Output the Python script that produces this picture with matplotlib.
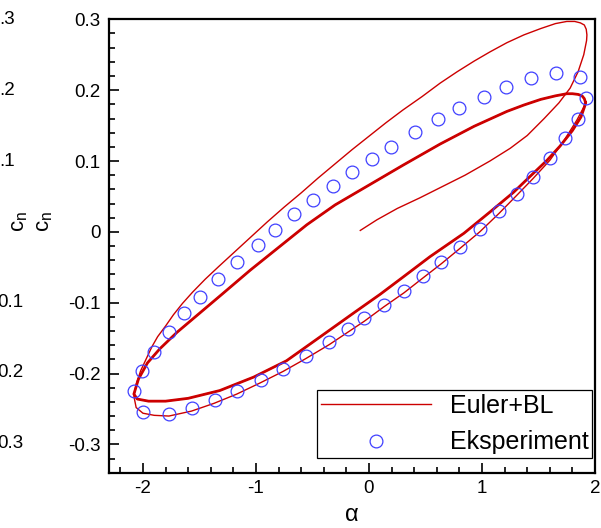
import matplotlib
matplotlib.use("Agg")
import matplotlib.pyplot as plt
from matplotlib.ticker import MultipleLocator

plt.rcParams['font.family'] = ['Liberation Sans', 'DejaVu Sans']
plt.rcParams['mathtext.default'] = 'regular'

# experiment (circles)
alpha_exp = [-2.077, -2.009, -1.906, -1.770, -1.640, -1.493, -1.340, -1.168, -0.985, -0.828,
             -0.664, -0.496, -0.322, -0.150, 0.027, 0.198, 0.404, 0.607, 0.800, 1.015,
             1.209, 1.434, 1.655, 1.863, 1.917, 1.846, 1.734, 1.602, 1.454, 1.312,
             1.153, 0.983, 0.802, 0.640, 0.474, 0.306, 0.133, -0.041, -0.183, -0.352,
             -0.561, -0.761, -0.956, -1.168, -1.366, -1.566, -1.773, -2.003]
cn_exp = [-0.225, -0.197, -0.170, -0.142, -0.114, -0.092, -0.067, -0.042, -0.018, 0.003,
          0.025, 0.045, 0.065, 0.084, 0.103, 0.120, 0.141, 0.159, 0.175, 0.191,
          0.204, 0.217, 0.224, 0.218, 0.189, 0.160, 0.132, 0.104, 0.077, 0.054,
          0.029, 0.004, -0.021, -0.042, -0.063, -0.083, -0.103, -0.122, -0.137, -0.155,
          -0.175, -0.193, -0.209, -0.225, -0.238, -0.249, -0.257, -0.254]

# Euler+BL: start-up (lower edge of first loop)
alpha_start = [-0.077, 0.07, 0.25, 0.45, 0.65, 0.85, 1.07, 1.25, 1.40, 1.55, 1.68, 1.78, 1.85, 1.90, 1.925]
cn_start = [0.002, 0.017, 0.033, 0.048, 0.064, 0.080, 0.100, 0.118, 0.136, 0.160, 0.182, 0.203, 0.226, 0.250, 0.270]
# first downstroke (outer loop upper edge)
alpha_first_up = [1.925, 1.928, 1.922, 1.905, 1.87, 1.82, 1.75, 1.65, 1.52, 1.37, 1.22, 1.07, 0.93, 0.78,
                  0.63, 0.47, 0.30, 0.15, 0.0, -0.15, -0.30, -0.45, -0.60, -0.75, -0.90, -1.05,
                  -1.20, -1.33, -1.45, -1.56, -1.65, -1.73, -1.80, -1.87, -1.92, -1.97, -2.02, -2.06, -2.08]
cn_first_up = [0.270, 0.278, 0.286, 0.292, 0.295, 0.297, 0.297, 0.294, 0.287, 0.278, 0.267, 0.254, 0.241, 0.226,
               0.210, 0.191, 0.172, 0.154, 0.135, 0.116, 0.096, 0.076, 0.055, 0.035, 0.014, -0.008,
               -0.030, -0.049, -0.067, -0.085, -0.101, -0.117, -0.133, -0.148, -0.162, -0.179, -0.196, -0.215, -0.232]
# first upstroke (through experiment)
alpha_first_low = [-2.08, -2.06, -2.0, -1.9, -1.77, -1.57, -1.37, -1.17, -0.96, -0.76, -0.56, -0.35,
                   -0.18, -0.04, 0.13, 0.31, 0.47, 0.64, 0.80, 0.98, 1.15, 1.31, 1.45, 1.60,
                   1.73, 1.84, 1.90, 1.915]
cn_first_low = [-0.232, -0.248, -0.256, -0.259, -0.260, -0.253, -0.242, -0.229, -0.213, -0.197, -0.179, -0.159,
                -0.141, -0.126, -0.106, -0.086, -0.066, -0.045, -0.024, 0.0, 0.026, 0.052, 0.075, 0.101,
                0.130, 0.158, 0.176, 0.183]
# periodic cycles
alpha_cyc_up = [1.915, 1.905, 1.885, 1.85, 1.80, 1.75, 1.65, 1.52, 1.37, 1.22, 0.93, 0.63, 0.30, 0.0, -0.30,
                -0.55, -0.80, -1.05, -1.30, -1.50, -1.70, -1.85, -1.96, -2.04, -2.08]
cn_cyc_up = [0.183, 0.188, 0.192, 0.194, 0.195, 0.195, 0.192, 0.187, 0.179, 0.170, 0.149, 0.124, 0.094, 0.066, 0.038,
             0.010, -0.022, -0.054, -0.088, -0.115, -0.142, -0.165, -0.185, -0.208, -0.229]
alpha_cyc_low = [-2.08, -2.05, -1.95, -1.80, -1.60, -1.32, -1.02, -0.73, -0.43, -0.14, 0.10, 0.30, 0.54,
                 0.84, 1.07, 1.28, 1.43, 1.575, 1.69, 1.80, 1.875, 1.91, 1.915]
cn_cyc_low = [-0.229, -0.236, -0.239, -0.239, -0.235, -0.224, -0.205, -0.182, -0.148, -0.115, -0.088, -0.064, -0.035,
              -0.002, 0.028, 0.056, 0.079, 0.101, 0.121, 0.143, 0.162, 0.178, 0.183]

alpha_sim = alpha_start + alpha_first_up + alpha_first_low + alpha_cyc_up + alpha_cyc_low
cn_sim = cn_start + cn_first_up + cn_first_low + cn_cyc_up + cn_cyc_low

red = '#cc0000'
blue = '#4040ff'

fig = plt.figure(figsize=(6.01, 5.28), dpi=100)
ax = fig.add_axes([0.1814, 0.1047, 0.8087, 0.8587])

ax.plot(alpha_sim, cn_sim, color=red, lw=1.0, label='Euler+BL')
ax.plot(alpha_cyc_up + alpha_cyc_low, cn_cyc_up + cn_cyc_low, color=red, lw=2.0)
ax.plot(alpha_exp, cn_exp, 'o', mfc='none', mec=blue, ms=9.2, mew=0.9, label='Eksperiment')

ax.set_xlim(-2.3, 2.0)
ax.set_ylim(-0.34, 0.3)
ax.xaxis.set_minor_locator(MultipleLocator(0.2))
ax.yaxis.set_minor_locator(MultipleLocator(0.02))
ax.set_yticks([-0.3, -0.2, -0.1, 0, 0.1, 0.2, 0.3])
ax.set_yticklabels(['-0.3', '-0.2', '-0.1', '0', '0.1', '0.2', '0.3'])
ax.set_xticks([-2, -1, 0, 1, 2])
ax.set_xticklabels(['-2', '-1', '0', '1', '2'])
ax.tick_params(which='both', direction='in', top=False, right=False, width=1.2, labelsize=13.5)
ax.tick_params(which='major', length=7.5)
ax.tick_params(which='minor', length=4.5)
ax.tick_params(axis='y', pad=6)
ax.tick_params(axis='x', pad=5)
for s in ax.spines.values():
    s.set_linewidth(1.6)

ax.set_xlabel('α', fontsize=17, labelpad=5)
ax.set_ylabel('c$_n$', fontsize=16)
ax.yaxis.set_label_coords(-0.112, 0.555)

# ghost labels from an overlapping figure at the left edge
fig.text(19 / 601, 1 - 221 / 528, 'c$_n$', fontsize=16, rotation=90, ha='center', va='center')
ghost_y = [0.3, 0.2, 0.1, -0.1, -0.2, -0.3]
ghost_lbl = ['.3', '.2', '.1', '0.1', '0.2', '0.3']
for yv, lb in zip(ghost_y, ghost_lbl):
    py = 231.7 - yv * 706
    xr = 15 if yv > 0 else 23
    fig.text(xr / 601, 1 - py / 528, lb, fontsize=13.5, ha='right', va='center')

leg = ax.legend(loc='lower right', bbox_to_anchor=(0.994, 0.032), borderaxespad=0,
                fontsize=18, handlelength=4.4, handletextpad=0.76, borderpad=0.15,
                labelspacing=0.5, fancybox=False, framealpha=1, edgecolor='black', numpoints=1)
leg.get_frame().set_linewidth(0.9)

fig.savefig('out.png', dpi=100)
